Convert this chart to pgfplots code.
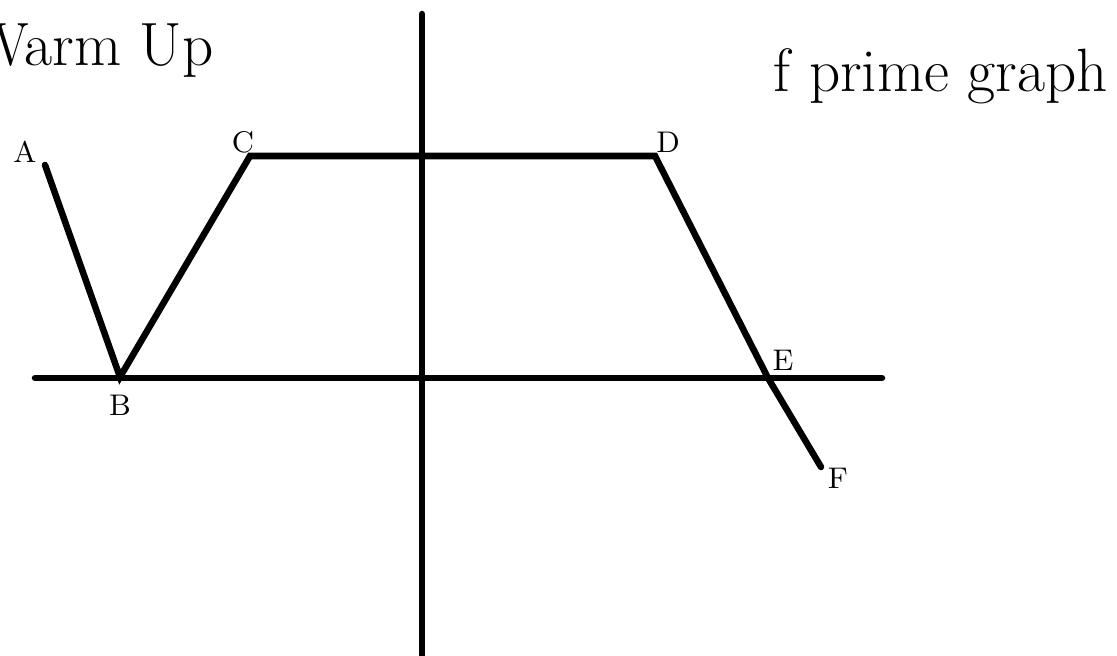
\documentclass[border=0pt]{standalone}
\usepackage{pgfplots}
\pgfplotsset{compat=1.18}
\begin{document}
\begin{tikzpicture}
\begin{axis}[
  scale only axis,
  width=11.17cm, height=6.55cm,
  xmin=0, xmax=1117, ymin=0, ymax=655,
  y dir=reverse,
  hide axis,
  clip=true,
]
% axes of the sketch
\addplot[black, line width=1.85pt, line cap=round] coordinates {(35,378) (882,378)};
\addplot[black, line width=1.85pt, line cap=round] coordinates {(422,14) (422,660)};
% f prime
\addplot[black, line width=1.85pt, line cap=round, line join=miter]
  coordinates {(45,165) (120,377) (250,156) (655,156) (768,378) (821,467)};
% labels
\node[font=\fontsize{8.5}{10}\selectfont] at (axis cs:25,152) {A};
\node[font=\fontsize{8.5}{10}\selectfont] at (axis cs:120,405) {B};
\node[font=\fontsize{8.5}{10}\selectfont] at (axis cs:243,142) {C};
\node[font=\fontsize{8.5}{10}\selectfont] at (axis cs:668,142) {D};
\node[font=\fontsize{8.5}{10}\selectfont] at (axis cs:783,360) {E};
\node[font=\fontsize{8.5}{10}\selectfont] at (axis cs:838,478) {F};
\node[font=\fontsize{17.4}{20}\selectfont, anchor=base east, inner sep=0pt] at (axis cs:214,66) {Warm Up};
\node[font=\fontsize{17.4}{20}\selectfont, anchor=base west, inner sep=0pt] at (axis cs:773,92) {f prime graph};
\end{axis}
\pgfresetboundingbox
\path (current axis.south west) rectangle (current axis.north east);
\end{tikzpicture}
\end{document}
